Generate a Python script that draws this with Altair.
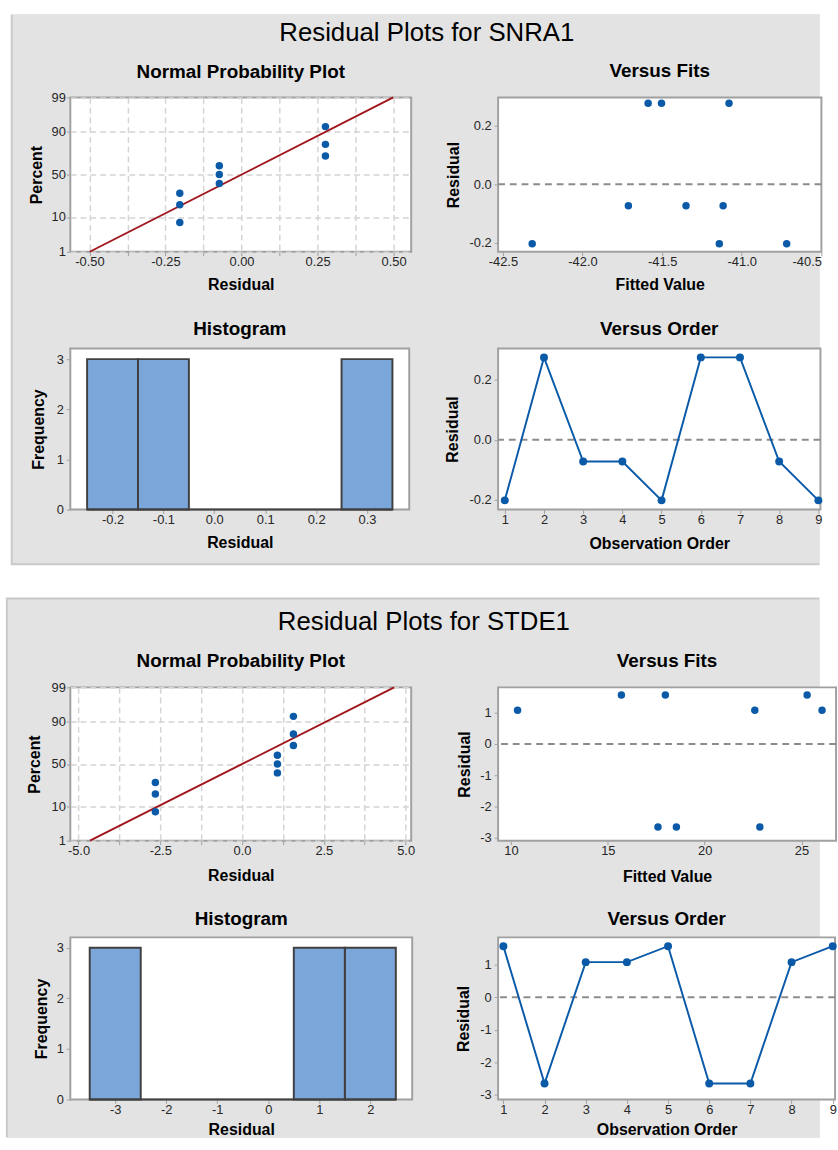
import altair as alt
import numpy as np
import pandas as pd
from statistics import NormalDist

FONT = "Liberation Sans"
MINUS = "\u2212"

# ---------------- data ----------------
obs_order = [1, 2, 3, 4, 5, 6, 7, 8, 9]

snr_title = "Residual Plots for SNRA1"
snr_resid = [-0.203, 0.276, -0.073, -0.073, -0.203, 0.276, 0.276, -0.073, -0.203]
snr_fits = [-42.316, -41.588, -41.712, -41.350, -41.141, -41.504, -41.080, -41.117, -40.718]

std_title = "Residual Plots for STDE1"
std_resid = [1.57, -2.65, 1.08, 1.08, 1.57, -2.65, -2.65, 1.08, 1.57]
std_fits = [15.70, 17.59, 10.34, 22.59, 17.97, 18.54, 22.85, 26.06, 25.29]

# plotting positions (percent) of the sorted residuals
npp_percent = [7.4, 18.1, 28.7, 39.4, 50.0, 60.6, 71.3, 81.9, 92.6]
pct_ticks = [1, 10, 50, 90, 99]

panel_names = ["Normal Probability Plot", "Versus Fits", "Histogram", "Versus Order"]

# axis tick values
snr_npp_x = [-0.5, -0.375, -0.25, -0.125, 0.0, 0.125, 0.25, 0.375, 0.5]
std_npp_x = [-5.0, -3.75, -2.5, -1.25, 0.0, 1.25, 2.5, 3.75, 5.0]
snr_fit_x = [-42.5, -42.0, -41.5, -41.0, -40.5]
std_fit_x = [10, 15, 20, 25]
snr_res_y = [-0.2, 0.0, 0.2]
std_res_y = [-3, -2, -1, 0, 1]
snr_hist_x = [-0.2, -0.1, 0.0, 0.1, 0.2, 0.3]
std_hist_x = [-3, -2, -1, 0, 1, 2]
freq_y = [0, 1, 2, 3]

# ---------------- style ----------------
PANEL = "#e3e3e3"
PANEL_EDGE = "#c9c9c9"
BOX = "#a0a0a0"
BLUE = "#0b5aa8"
RED = "#a0161c"
BAR = "#7ba6d9"
BAR_EDGE = "#404040"
REF = "#8c8c8c"
GRID = "#d4d4d4"
TXT = "#262626"

LABEL_SIZE = 13.2
AXIS_TITLE_SIZE = 16.3
HEAD_SIZE = 19.3
BIG_SIZE = 26.4
DOT = 58

ONE = pd.DataFrame({"k": [0]})
PLOT_VIEW = alt.ViewBackground(fill="white", stroke=BOX, strokeWidth=2)
Z99 = NormalDist().inv_cdf(0.99)
pct_z = [NormalDist().inv_cdf(p / 100) for p in pct_ticks]

PAGE_W, PAGE_H = 838, 1150


def num_expr(fmt):
    return f"replace(format(datum.value, '{fmt}'), '{MINUS}', '-')"


def every_expr(step, fmt):
    return (f"abs(datum.value / {step} - round(datum.value / {step})) < 0.001 ? "
            f"{num_expr(fmt)} : ''")


pct_expr = " : ".join(
    f"abs(datum.value - ({z:.6f})) < 0.001 ? '{p}'" for z, p in zip(pct_z, pct_ticks)
) + " : ''"


def common(grid):
    return dict(labelFont=FONT, labelFontSize=LABEL_SIZE, labelColor=TXT,
                labelOverlap=False, labelFlush=False, tickSize=4, tickColor=BOX,
                tickWidth=1, domain=False, grid=grid, gridColor=GRID, gridDash=[6, 4],
                gridWidth=1.5, titleFont=FONT, titleFontSize=AXIS_TITLE_SIZE,
                titleFontWeight="bold", titleColor="black", titleBaseline="alphabetic",
                titleAlign="center")


def x_axis(title, values, expr, w, ty, grid=False, **extra):
    return alt.Axis(title=title, values=values, labelExpr=expr, titleX=w / 2,
                    titleY=ty, labelPadding=0, **common(grid), **extra)


def y_axis(title, values, expr, h, tx, pad=3, grid=False):
    return alt.Axis(title=title, values=values, labelExpr=expr, titleX=tx,
                    titleY=h / 2, titleAngle=270, labelPadding=pad, **common(grid))


def heading(text, w, dy):
    return alt.Chart(pd.DataFrame({"t": [text]})).mark_text(
        font=FONT, fontSize=HEAD_SIZE, fontWeight="bold", align="center",
        baseline="alphabetic", color="black"
    ).encode(text="t:N", x=alt.value(w / 2), y=alt.value(-dy))


def spacer(w, h):
    return alt.Chart(ONE).mark_point(opacity=0, size=1).encode(
        x=alt.value(w / 2), y=alt.value(h / 2)
    ).properties(width=w, height=h, view=alt.ViewBackground(stroke="transparent"))


def npp_panel(resid, xdom, xgrid, step, fmt, w, h, dy, ty, tx):
    pts = pd.DataFrame({"res": sorted(resid),
                        "z": [NormalDist().inv_cdf(p / 100) for p in npp_percent]})
    mu = float(np.mean(resid))
    sd = float(np.std(resid, ddof=1))
    fit = pd.DataFrame({"res": [mu - Z99 * sd, mu + Z99 * sd], "z": [-Z99, Z99]})
    x = alt.X("res:Q", scale=alt.Scale(domain=xdom, nice=False, zero=False),
              axis=x_axis("Residual", xgrid, every_expr(step, fmt), w, ty, grid=True))
    y = alt.Y("z:Q", scale=alt.Scale(domain=[-Z99, Z99], nice=False, zero=False),
              axis=y_axis("Percent", pct_z, pct_expr, h, tx, pad=1, grid=True))
    line = alt.Chart(fit).mark_line(color=RED, strokeWidth=2).encode(x=x, y=y)
    dots = alt.Chart(pts).mark_circle(color=BLUE, size=DOT, opacity=1).encode(x=x, y=y)
    return alt.layer(line, dots, heading(panel_names[0], w, dy)).properties(
        width=w, height=h, view=PLOT_VIEW)


def fits_panel(fits, resid, xdom, xvals, xfmt, ydom, yvals, yfmt, w, h, dy, ty, tx,
               last_shift=0):
    df = pd.DataFrame({"fit": fits, "res": resid})
    xs = alt.Scale(domain=xdom, nice=False, zero=False)
    ys = alt.Scale(domain=ydom, nice=False, zero=False)
    # the last tick label sits at the right edge of the page; nudge it inward
    shift = alt.condition(f"datum.value == {xvals[-1]}", alt.value(last_shift), alt.value(0))
    xa = x_axis("Fitted Value", xvals, num_expr(xfmt), w, ty, labelOffset=shift)
    ya = y_axis("Residual", yvals, num_expr(yfmt), h, tx)
    ref = alt.Chart(ONE).mark_rule(color=REF, strokeDash=[7, 5], strokeWidth=2).encode(
        y=alt.Y(datum=0, scale=ys, axis=ya))
    dots = alt.Chart(df).mark_circle(color=BLUE, size=DOT, opacity=1).encode(
        x=alt.X("fit:Q", scale=xs, axis=xa), y=alt.Y("res:Q", scale=ys, axis=ya))
    return alt.layer(ref, dots, heading(panel_names[1], w, dy)).properties(
        width=w, height=h, view=PLOT_VIEW)


def hist_panel(resid, extent, step, xdom, xvals, xfmt, ytop, w, h, dy, ty, tx):
    xs = alt.Scale(domain=xdom, nice=False, zero=False)
    ys = alt.Scale(domain=[0, ytop], nice=False, zero=False)
    xa = x_axis("Residual", xvals, num_expr(xfmt), w, ty)
    ya = y_axis("Frequency", freq_y, num_expr("d"), h, tx)
    base = alt.Chart(pd.DataFrame({"res": resid})).transform_bin(
        "b", "res", bin=alt.Bin(extent=extent, step=step, nice=False))
    bars = base.transform_aggregate(count="count()", groupby=["b", "b_end"]).mark_rect(
        color=BAR, stroke=BAR_EDGE, strokeWidth=2
    ).encode(x=alt.X("b:Q", scale=xs, axis=xa), x2="b_end:Q",
             y=alt.Y("count:Q", scale=ys, axis=ya), y2=alt.datum(0))
    floor = base.mark_rule(color=BAR_EDGE, strokeWidth=2).encode(
        x=alt.X("min(b):Q", scale=xs, axis=xa), x2="max(b_end):Q",
        y=alt.Y(datum=0, scale=ys, axis=ya))
    return alt.layer(bars, floor, heading(panel_names[2], w, dy)).properties(
        width=w, height=h, view=PLOT_VIEW)


def order_panel(resid, xdom, ydom, yvals, yfmt, w, h, dy, ty, tx):
    df = pd.DataFrame({"obs": obs_order, "res": resid})
    xs = alt.Scale(domain=xdom, nice=False, zero=False)
    ys = alt.Scale(domain=ydom, nice=False, zero=False)
    xa = x_axis("Observation Order", obs_order, num_expr("d"), w, ty)
    ya = y_axis("Residual", yvals, num_expr(yfmt), h, tx)
    ref = alt.Chart(ONE).mark_rule(color=REF, strokeDash=[7, 5], strokeWidth=2).encode(
        y=alt.Y(datum=0, scale=ys, axis=ya))
    line = alt.Chart(df).mark_line(
        color=BLUE, strokeWidth=2,
        point=alt.OverlayMarkDef(filled=True, color=BLUE, size=DOT + 8, opacity=1)
    ).encode(x=alt.X("obs:Q", scale=xs, axis=xa), y=alt.Y("res:Q", scale=ys, axis=ya))
    return alt.layer(ref, line, heading(panel_names[3], w, dy)).properties(
        width=w, height=h, view=PLOT_VIEW)


def box(x1, x2, y1, y2, fill):
    return alt.Chart(ONE).mark_rect(color=fill).encode(
        x=alt.value(x1), x2=alt.value(x2), y=alt.value(y1), y2=alt.value(y2))


def big_title(text, x, y):
    return alt.Chart(pd.DataFrame({"t": [text]})).mark_text(
        font=FONT, fontSize=BIG_SIZE, align="center", baseline="alphabetic",
        color="black"
    ).encode(text="t:N", x=alt.value(x), y=alt.value(y))


# page background, the two grey panels and their headings
backdrop = alt.layer(
    box(0, PAGE_W, 0, PAGE_H, "white"),
    box(10, PAGE_W, 0, 564, PANEL_EDGE),
    box(12, PAGE_W, 0, 562, PANEL),
    box(5, PAGE_W, 597, PAGE_H, PANEL_EDGE),
    box(7, PAGE_W, 599, PAGE_H, PANEL),
    big_title(snr_title, 436, 27),
    big_title(std_title, 433, 630),
).properties(width=69, height=85, view=alt.ViewBackground(stroke="transparent"))

npp_a = npp_panel(snr_resid, [-0.563, 0.558], snr_npp_x, 0.25, ".2f",
                  349, 158, 19.5, 39, -30)
fits_a = fits_panel(snr_fits, snr_resid, [-42.53, -40.50], snr_fit_x, ".1f",
                    [-0.230, 0.296], snr_res_y, ".1f", 331, 158, 20.5, 39, -41,
                    last_shift=-15)
hist_a = hist_panel(snr_resid, [-0.25, 0.35], 0.1, [-0.283, 0.383], snr_hist_x, ".1f",
                    3.213, 347, 165, 13.5, 39, -27)
order_a = order_panel(snr_resid, [0.83, 9.052], [-0.234, 0.306], snr_res_y, ".1f",
                      330, 165, 13.5, 40, -42)

npp_b = npp_panel(std_resid, [-5.25, 5.17], std_npp_x, 2.5, ".1f",
                  349, 157, 20.5, 41, -32)
fits_b = fits_panel(std_fits, std_resid, [9.335, 26.783], std_fit_x, "d",
                    [-3.09, 1.815], std_res_y, "d", 346, 157, 20.5, 42, -29)
hist_b = hist_panel(std_resid, [-3.5, 2.5], 1, [-3.88, 2.82], std_hist_x, "d",
                    3.204, 350, 166, 12.5, 36, -24)
order_b = order_panel(std_resid, [0.872, 9.057], [-3.14, 1.84], std_res_y, "d",
                      345, 166, 12.5, 36, -30)


def gap_row(h):
    return [spacer(10, h) for _ in range(4)]


cells = (
    [backdrop, spacer(349, 85), spacer(87, 85), spacer(331, 85)]
    + [spacer(69, 158), npp_a, spacer(87, 158), fits_a]
    + gap_row(99)
    + [spacer(71, 165), hist_a, spacer(88, 165), order_a]
    + gap_row(182)
    + [spacer(65, 157), npp_b, spacer(76, 157), fits_b]
    + gap_row(99)
    + [spacer(64, 166), hist_b, spacer(77, 166), order_b]
)

chart = alt.concat(
    *cells, columns=4, spacing=0, bounds="flush", align="none"
).properties(
    padding={"left": 0, "top": 0, "right": 0, "bottom": 0}, background="white"
).configure(font=FONT)

chart.save("out.html", embed_options={"renderer": "svg", "actions": False})
